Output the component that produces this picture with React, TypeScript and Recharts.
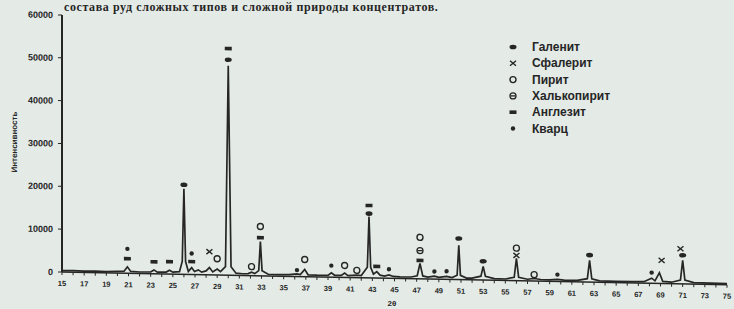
import React from "react";
import {
  ComposedChart,
  Line,
  Scatter,
  XAxis,
  YAxis,
} from "recharts";

// diffraction pattern (2θ, counts)
const angles = [
  15.0, 16.0, 17.0, 18.0, 19.0, 20.0, 20.6, 20.9, 21.2, 22.0, 23.0, 23.3, 23.6,
  24.4, 24.7, 25.0, 25.6, 25.85, 26.0, 26.15, 26.4, 26.7, 26.95, 27.3, 27.6,
  28.0, 28.3, 28.6, 29.0, 29.3, 29.75, 30.0, 30.25, 30.7, 31.3, 31.8, 32.1,
  32.4, 32.75, 32.9, 33.05, 33.6, 34.5, 35.5, 36.2, 36.5, 36.9, 37.2, 38.0,
  39.0, 39.3, 39.6, 40.2, 40.5, 40.8, 41.6, 42.0, 42.55, 42.7, 42.85, 43.1,
  43.4, 43.7, 44.1, 44.5, 44.9, 45.5, 46.5, 47.05, 47.3, 47.55, 48.0, 48.6,
  49.0, 49.7, 50.2, 50.65, 50.8, 50.95, 51.5, 52.0, 52.8, 53.0, 53.2, 54.0,
  55.0, 55.8, 56.0, 56.2, 57.0, 57.6, 58.2, 59.0, 59.7, 60.3, 61.5, 62.4,
  62.6, 62.8, 63.5, 65.0, 66.5, 67.5, 68.2, 68.5, 68.9, 69.2, 70.0, 70.8,
  71.0, 71.2, 72.0, 73.5, 75.0,
];
const counts = [
  300, 350, 300, 350, 300, 400, 450, 1500, 450, 350, 400, 900, 400,
  450, 900, 450, 600, 3000, 20000, 3000, 700, 1600, 700, 1100, 600,
  900, 1700, 700, 1400, 800, 2000, 48900, 2000, 500, 400, 450, 800,
  500, 1200, 8000, 1200, 400, 350, 400, 600, 450, 1700, 450, 400,
  400, 1000, 450, 450, 1000, 450, 600, 500, 2500, 14300, 2500, 900,
  1500, 700, 500, 800, 450, 400, 400, 700, 3600, 700, 450, 700,
  450, 700, 450, 1000, 8000, 1000, 400, 400, 900, 3200, 900, 400,
  350, 800, 5200, 800, 400, 600, 400, 350, 500, 350, 350, 800,
  5100, 800, 350, 300, 300, 350, 1200, 600, 2500, 500, 350, 900,
  5500, 900, 350, 300, 300,
];

// phase markers: [2θ, height]
const galena = [[26.0, 20900], [30.0, 50300], [42.7, 15000], [50.8, 9600], [53.0, 4400], [62.6, 6300], [71.0, 6700]];
const sphalerite = [[28.3, 5400], [56.0, 5900], [69.1, 5400], [70.8, 8200]];
const pyrite = [[29.0, 3800], [32.1, 2100], [32.9, 11500], [36.9, 4000], [40.5, 2800], [41.6, 1700], [47.3, 9700], [56.0, 7600], [57.6, 1500]];
const chalcopyrite = [[47.3, 6600]];
const anglesite = [[20.9, 3400], [23.3, 2800], [24.7, 2900], [26.7, 3000], [30.0, 52900], [32.9, 8900], [42.7, 16900], [43.4, 2700], [47.3, 4300]];
const quartz = [[20.9, 5700], [26.7, 4900], [36.2, 1500], [39.3, 2700], [44.5, 2100], [48.6, 1800], [49.7, 1900], [59.7, 1600], [68.2, 2500]];

const yTicks = [0, 10000, 20000, 30000, 40000, 50000, 60000];
const xTicks = Array.from({ length: 61 }, (_, i) => 15 + i);

const legendNames = ["Галенит", "Сфалерит", "Пирит", "Халькопирит", "Англезит", "Кварц"];

const ink = "#262626";
const bg = "#e4ebe7";

const pattern = angles.map((a, i) => ({ x: a, y: counts[i] }));
const toPts = (arr: number[][]) => arr.map(([x, y]) => ({ x, y }));

function Mark({ kind, cx, cy }: { kind: number; cx: number; cy: number }) {
  switch (kind) {
    case 0:
      return <ellipse cx={cx} cy={cy} rx={3.5} ry={2.3} fill={ink} />;
    case 1:
      return (
        <g stroke={ink} strokeWidth={1.4}>
          <line x1={cx - 3} y1={cy - 2.5} x2={cx + 3} y2={cy + 2.5} />
          <line x1={cx - 3} y1={cy + 2.5} x2={cx + 3} y2={cy - 2.5} />
        </g>
      );
    case 2:
      return <circle cx={cx} cy={cy} r={3} fill="none" stroke={ink} strokeWidth={1.4} />;
    case 3:
      return (
        <g stroke={ink} strokeWidth={1.3}>
          <circle cx={cx} cy={cy} r={3} fill="none" />
          <line x1={cx - 2.5} y1={cy} x2={cx + 2.5} y2={cy} />
        </g>
      );
    case 4:
      return <rect x={cx - 3.5} y={cy - 1.8} width={7} height={3.6} fill={ink} />;
    default:
      return <circle cx={cx} cy={cy} r={2.2} fill={ink} />;
  }
}

const XTick = (props: any) => {
  const { x, y, payload } = props;
  if (payload.value % 2 === 0) return <g />;
  return (
    <text x={x} y={y} dy={7} textAnchor="middle" fontSize={7.5} fontWeight="bold" fill={ink} fontFamily="Liberation Sans">
      {payload.value}
    </text>
  );
};

export default function App() {
  const series = [galena, sphalerite, pyrite, chalcopyrite, anglesite, quartz];
  return (
    <div style={{ position: "absolute", left: 0, top: 0, width: 734, height: 309, background: bg, overflow: "hidden", fontFamily: "Liberation Sans" }}>
      <div style={{ position: "absolute", left: 64, top: 1, fontFamily: "Liberation Serif", fontWeight: "bold", fontSize: 12, lineHeight: "13px", letterSpacing: 0.6, color: ink, whiteSpace: "nowrap" }}>
        состава руд сложных типов и сложной природы концентратов.
      </div>
      <div style={{ position: "absolute", left: 0, top: 0, transform: "skewY(1.1deg)", transformOrigin: "62px 272px" }}>
        <ComposedChart width={734} height={309} margin={{ top: 15, right: 7, left: 0, bottom: 0 }}>
          <XAxis
            type="number"
            dataKey="x"
            domain={[15, 75]}
            ticks={xTicks}
            interval={0}
            height={37}
            tick={<XTick />}
            tickSize={3}
            tickMargin={4}
            axisLine={{ stroke: ink, strokeWidth: 1.5 }}
            tickLine={{ stroke: ink }}
            allowDataOverflow
          />
          <YAxis
            type="number"
            domain={[0, 60000]}
            ticks={yTicks}
            width={62}
            tickSize={4}
            tickMargin={5}
            axisLine={{ stroke: ink, strokeWidth: 2 }}
            tickLine={{ stroke: ink }}
            tick={{ fontSize: 9, fontWeight: "bold", fill: ink, fontFamily: "Liberation Sans" }}
          />
          <Line data={pattern} dataKey="y" type="linear" stroke={ink} strokeWidth={1.7} dot={false} isAnimationActive={false} />
          {series.map((s, k) => (
            <Scatter
              key={k}
              data={toPts(s)}
              dataKey="y"
              isAnimationActive={false}
              shape={(p: any) => <Mark kind={k} cx={p.cx} cy={p.cy} />}
            />
          ))}
          <text x={15} y={143} transform="rotate(-90 15 143)" textAnchor="middle" dominantBaseline="middle" fontSize={8} fontWeight="bold" fill={ink}>
            Интенсивность
          </text>
        </ComposedChart>
      </div>
      <svg style={{ position: "absolute", left: 0, top: 0 }} width={734} height={309}>
        <text x={392} y={306} textAnchor="middle" fontSize={8} fontWeight="bold" fill={ink}>
          2θ
        </text>
        {legendNames.map((n, i) => {
          const cy = 47 + i * 16.3;
          return (
            <g key={n}>
              <Mark kind={i} cx={513} cy={cy} />
              <text x={532} y={cy} dominantBaseline="central" fontSize={12} fontWeight="bold" fill={ink} fontFamily="Liberation Sans">
                {n}
              </text>
            </g>
          );
        })}
      </svg>
    </div>
  );
}
